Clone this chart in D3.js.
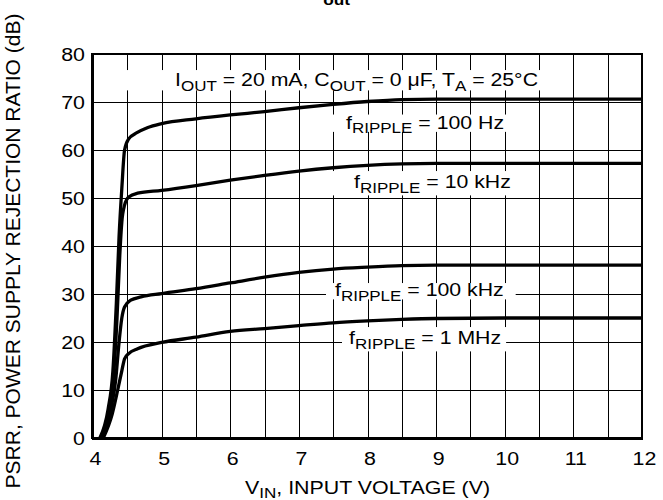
<!DOCTYPE html>
<html>
<head>
<meta charset="utf-8">
<script src="https://cdn.jsdelivr.net/npm/d3@7"></script>
<style>
  body { margin: 0; background: #fff; }
  svg { display: block; font-family: "Liberation Sans", Arial, Helvetica, sans-serif; }
</style>
</head>
<body>
<svg id="chart" width="663" height="500"></svg>
<script>
// axis ticks
const xTicks = [4, 5, 6, 7, 8, 9, 10, 11, 12];
const yTicks = [0, 10, 20, 30, 40, 50, 60, 70, 80];

// PSRR curves (V_IN in volts, PSRR in dB)
const vin100Hz = [4.10, 4.22, 4.29, 4.34, 4.38, 4.42, 4.46, 4.52, 4.64, 4.8, 5, 5.5, 6, 6.5, 7, 7.5, 8, 8.5, 9, 10, 11, 12];
const db100Hz  = [0, 6, 14, 28, 42, 52, 60, 62.3, 63.6, 64.7, 65.5, 66.5, 67.3, 68, 68.8, 69.5, 70.1, 70.5, 70.6, 70.6, 70.6, 70.6];

const vin10kHz = [4.12, 4.24, 4.30, 4.35, 4.39, 4.42, 4.46, 4.52, 4.65, 5, 5.5, 6, 6.5, 7, 7.5, 8, 8.5, 9, 10, 11, 12];
const db10kHz  = [0, 6, 13, 25, 38, 45, 48.5, 50.2, 51, 51.6, 52.6, 53.7, 54.7, 55.6, 56.3, 56.8, 57.1, 57.2, 57.2, 57.2, 57.2];

const vin100kHz = [4.13, 4.26, 4.33, 4.38, 4.42, 4.46, 4.55, 4.7, 5, 5.5, 6, 6.5, 7, 7.5, 8, 8.5, 9, 10, 11, 12];
const db100kHz  = [0, 6, 12, 20, 25, 27.3, 28.7, 29.4, 30.1, 31.1, 32.3, 33.5, 34.5, 35.2, 35.6, 35.9, 36, 36, 36, 36];

const vin1MHz = [4.15, 4.28, 4.36, 4.42, 4.46, 4.52, 4.65, 5, 5.5, 6, 6.5, 7, 7.5, 8, 8.5, 9, 10, 11, 12];
const db1MHz  = [0, 5, 10, 14, 16.5, 17.6, 18.6, 19.9, 21, 22.2, 22.8, 23.4, 24, 24.4, 24.7, 24.9, 25, 25, 25];

const rippleLabels = ["100 Hz", "10 kHz", "100 kHz", "1 MHz"];

const svg = d3.select("#chart");
const SX = 1.15;          // text in the scan is a bit wide
const LSX = 1.12;         // annotation text
const margin = {top: 54, right: 21, bottom: 62, left: 93};
const W = 663, H = 500;

const x = d3.scaleLinear().domain([4, 12]).range([margin.left, W - margin.right]);
const y = d3.scaleLinear().domain([0, 80]).range([H - margin.bottom, margin.top]);
const crisp = v => Math.round(v) + 0.5;

// rich text helper: parts = [[string, isSub], ...]
function richText(parent, px, py, parts, size, anchor, sx) {
  const t = parent.append("text")
    .attr("transform", `translate(${px},${py}) scale(${sx || SX},1)`)
    .attr("font-size", size)
    .attr("text-anchor", anchor || "start")
    .attr("fill", "#000");
  const shift = size * 0.24;
  let down = false;
  parts.forEach(([s, sub]) => {
    const ts = t.append("tspan").text(s);
    if (sub) {
      ts.attr("font-size", size * 0.8);
      if (!down) ts.attr("dy", shift);
      down = true;
    } else {
      if (down) ts.attr("dy", -shift);
      down = false;
    }
  });
  return t;
}

// grid
const grid = svg.append("g").attr("stroke", "#000").attr("stroke-width", 1);
grid.selectAll("line.v").data(d3.range(4.5, 12, 0.5)).join("line")
  .attr("x1", d => crisp(x(d))).attr("x2", d => crisp(x(d)))
  .attr("y1", y(0)).attr("y2", y(80));
grid.selectAll("line.h").data(yTicks.slice(1, -1)).join("line")
  .attr("x1", x(4)).attr("x2", x(12))
  .attr("y1", d => crisp(y(d))).attr("y2", d => crisp(y(d)));

// curves
const line = d3.line().x(d => x(d[0])).y(d => y(d[1])).curve(d3.curveMonotoneX);
const series = [
  [vin100Hz, db100Hz], [vin10kHz, db10kHz], [vin100kHz, db100kHz], [vin1MHz, db1MHz]
];
svg.append("g").selectAll("path").data(series).join("path")
  .attr("d", s => line(s[0].map((v, i) => [v, s[1][i]])))
  .attr("fill", "none")
  .attr("stroke", "#000")
  .attr("stroke-width", 3.3)
  .attr("stroke-linejoin", "round");

// annotation labels on white boxes
const svgRect = svg.node().getBoundingClientRect();
function boxed(px, py, parts, pad) {
  const g = svg.append("g");
  const r = g.append("rect").attr("fill", "#fff");
  const t = richText(g, px, py, parts, 19, "start", LSX);
  const b = t.node().getBoundingClientRect();
  r.attr("x", b.left - svgRect.left - pad[0])
   .attr("y", b.top - svgRect.top - pad[2])
   .attr("width", b.width + pad[0] + pad[1])
   .attr("height", b.height + pad[2] + pad[3]);
}

boxed(x(4) + 82, y(0) - 352, [["I"], ["OUT", 1], [" = 20 mA, C"], ["OUT", 1], [" = 0 \u03bcF, T"], ["A", 1], [" = 25\u00b0C"]], [75, 3, -1, -3]);
const rippleY = [128.5, 188, 296, 344];
const rippleX = [346, 354, 335, 349];
const rippleBoxPad = [[22, 10, -3, -4], [28, 8, 0, 0], [9, 12, -4, -4], [7, 5, 0, 0]];
rippleLabels.forEach((lab, i) => {
  boxed(rippleX[i], rippleY[i], [["f"], ["RIPPLE", 1], [" = " + lab]], rippleBoxPad[i]);
});

// axes
const xAxis = svg.append("g")
  .attr("transform", `translate(0,${y(0)})`)
  .call(d3.axisBottom(x).tickValues(xTicks).tickSize(0).tickFormat(d3.format("d")));
xAxis.select(".domain").remove();
xAxis.selectAll("text")
  .attr("y", 27).attr("dy", 0)
  .attr("font-size", 18.6)
  .attr("font-family", "Liberation Sans, Arial, sans-serif")
  .attr("fill", "#000")
  .attr("transform", `translate(2,0) scale(${SX},1)`);

const yAxis = svg.append("g")
  .attr("transform", `translate(${x(4)},0)`)
  .call(d3.axisLeft(y).tickValues(yTicks).tickSize(0).tickFormat(d3.format("d")));
yAxis.select(".domain").remove();
yAxis.selectAll("text")
  .attr("x", -7).attr("dy", "0.36em")
  .attr("font-size", 18.6)
  .attr("font-family", "Liberation Sans, Arial, sans-serif")
  .attr("fill", "#000")
  .attr("transform", `scale(${SX},1)`);

// frame
svg.append("rect")
  .attr("x", x(4)).attr("y", y(80))
  .attr("width", x(12) - x(4)).attr("height", y(0) - y(80))
  .attr("fill", "none").attr("stroke", "#000").attr("stroke-width", 2);
svg.append("line")
  .attr("x1", x(4) - 1).attr("x2", x(12) + 1)
  .attr("y1", y(0) + 0.5).attr("y2", y(0) + 0.5)
  .attr("stroke", "#000").attr("stroke-width", 3);
svg.append("line")
  .attr("x1", x(4) - 0.5).attr("x2", x(4) - 0.5)
  .attr("y1", y(80) - 1).attr("y2", y(0) + 1)
  .attr("stroke", "#000").attr("stroke-width", 3);

// axis titles
richText(svg, (x(4) + x(12)) / 2, 494, [["V"], ["IN", 1], [", INPUT VOLTAGE (V)"]], 18.6, "middle");
svg.append("text")
  .attr("transform", "translate(20,251) rotate(-90)")
  .attr("font-size", 21)
  .attr("text-anchor", "middle")
  .attr("fill", "#000")
  .text("PSRR, POWER SUPPLY REJECTION RATIO (dB)");

// chart title, mostly cut off at the top edge
svg.append("text")
  .attr("transform", `translate(309,-2) scale(${SX},1)`)
  .attr("font-size", 18.6)
  .attr("font-weight", "bold")
  .call(t => {
    t.append("tspan").text("V");
    t.append("tspan").attr("font-size", 15).attr("dy", 7).text("out");
    t.append("tspan").attr("dy", -7).text(" = 1.5 V");
  });
</script>
</body>
</html>
